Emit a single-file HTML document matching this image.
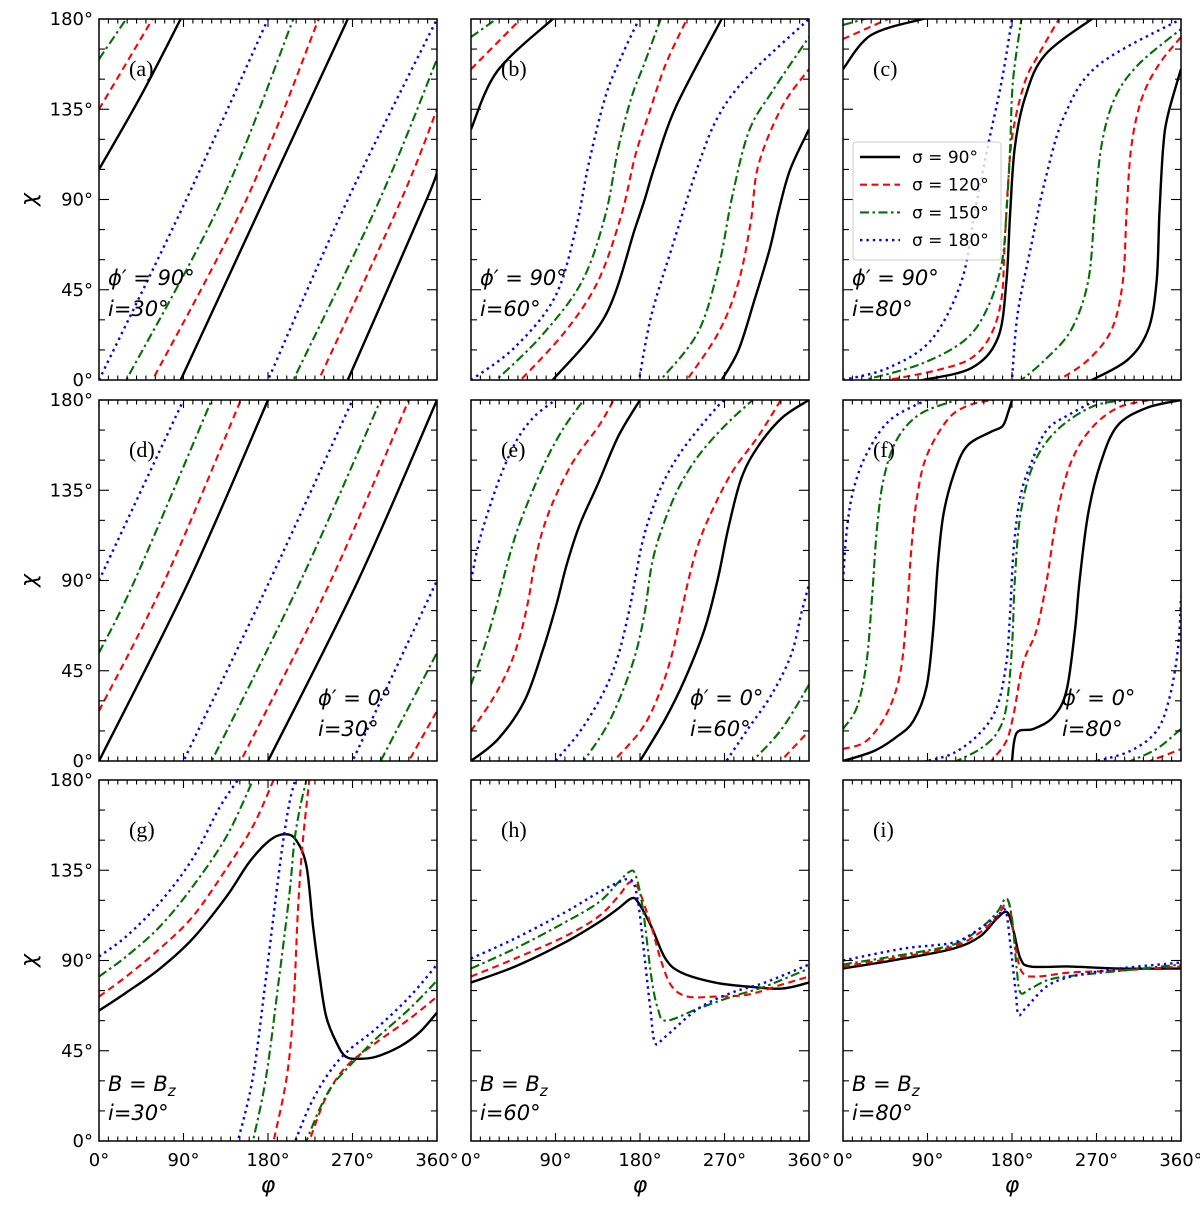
<!DOCTYPE html>
<html><head><meta charset="utf-8"><style>
html,body{margin:0;padding:0;background:#fff;width:1200px;height:1206px;overflow:hidden;}
svg{display:block;}
</style></head><body>
<svg id="fig" width="1200" height="1206" viewBox="0 0 1200 1206" xmlns="http://www.w3.org/2000/svg"></svg>
<script>
// ---- data: [phi, chi] pairs, chi unwrapped (wrapped mod 180 when drawn) ----
const a_s90=[[0,105],[45,142],[87,180],[176,270],[265,360],[349,450],[360,465]];
const a_s120=[[0,135],[57,180],[157,270],[234,360],[322,450],[360,495]];
const a_s150=[[0,160],[29,180],[131,270],[207,360],[299,450],[360,520]];
const a_s180=[[0,0],[93,90],[180,180],[265,270],[360,360]];

const b_s90=[[0,125],[28,154],[87,180],[143,212],[175,256],[185,270],[196,287],[218,316],[267,360],[285,375],[302,400],[318,425],[328,445],[340,465],[360,485]];
const b_s120=[[0,155],[53,180],[100,204],[135,229],[160,262],[175,292],[189,312],[207,337],[230,360],[264,384],[285,409],[298,439],[306,467],[331,496],[360,515]];
const b_s150=[[0,171],[27,180],[75,202],[118,229],[143,262],[157,296],[171,321],[184,337],[202,360],[242,384],[264,417],[278,451],[296,484],[321,504],[360,531]];
const b_s180=[[0,0],[46,16],[89,41],[111,74],[125,107],[143,141],[160,161],[179,180],[192,212],[214,246],[242,287],[264,312],[296,332],[360,360]];

const c_s90=[[0,155],[30,172],[85,180],[137,186],[165,201],[174,229],[178,263],[183,296],[194,321],[215,342],[265,360],[303,370],[325,385],[334,409],[337,443],[341,476],[346,492],[360,515]];
const c_s120=[[0,170],[48,180],[101,185],[137,191],[158,203],[169,221],[172,246],[176,279],[181,304],[194,329],[208,342],[230,360],[261,370],[286,385],[298,409],[302,443],[307,476],[318,500],[336,517],[360,531]];
const c_s150=[[0,177],[23,180],[83,188],[130,200],[154,216],[169,238],[174,263],[178,296],[181,329],[190,360],[215,370],[243,385],[261,409],[268,443],[275,476],[289,500],[314,517],[360,535]];
const c_s180=[[0,0],[48,6],[94,20],[126,49],[140,83],[154,116],[169,149],[180,180],[186,213],[200,246],[215,279],[236,312],[272,337],[360,360]];

const d_s90=[[0,0],[96,90],[180,180],[276,270],[360,360]];
const d_s120=[[0,25],[70,90],[151,180],[247,270],[330,360],[360,385]];
const d_s150=[[0,54],[38,90],[120,180],[215,270],[300,360],[360,414]];
const d_s180=[[0,90],[90,180],[182,270],[270,360],[360,450]];

const e_s90=[[0,0],[29,11],[57,30],[77,56],[91,78],[102,98],[116,118],[136,139],[157,162],[180,180],[207,201],[228,221],[249,246],[263,271],[274,296],[288,321],[306,337],[331,351],[360,360]];
const e_s120=[[0,15],[22,30],[40,46],[52,62],[61,80],[68,99],[77,116],[91,133],[111,151],[136,167],[152,180],[182,196],[200,213],[214,233],[224,254],[232,271],[242,288],[256,304],[278,324],[306,342],[330,360],[360,375]];
const e_s150=[[0,38],[15,58],[28,79],[39,99],[50,116],[65,134],[82,152],[100,167],[120,180],[143,196],[160,213],[175,233],[185,254],[193,279],[205,298],[221,316],[242,332],[270,347],[300,360],[331,376],[360,398]];
const e_s180=[[0,90],[8,108],[18,124],[33,144],[50,161],[68,172],[90,180],[118,196],[143,216],[157,233],[168,254],[175,271],[182,288],[192,304],[207,321],[228,337],[263,357],[272,360],[295,376],[320,393],[341,413],[352,434],[360,448]];

const f_s90=[[0,0],[33,5],[57,12],[75,20],[89,37],[96,65],[101,98],[107,123],[118,143],[132,157],[157,164],[170,167],[176,174],[180,180],[185,194],[203,196],[224,202],[238,215],[247,245],[252,270],[261,303],[274,328],[292,347],[323,356],[360,360]];
const f_s120=[[0,6],[25,10],[47,24],[61,44],[68,74],[73,107],[79,132],[89,152],[111,170],[132,177],[158,180],[174,190],[182,204],[192,229],[206,245],[217,270],[228,303],[242,328],[263,345],[292,356],[327,360],[355,365],[360,366]];
const f_s150=[[0,16],[15,27],[25,49],[31,82],[36,115],[43,140],[57,160],[82,173],[121,180],[146,186],[164,194],[174,207],[180,237],[183,270],[189,303],[203,328],[228,345],[267,357],[306,360],[334,366],[360,376]];
const f_s180=[[0,90],[4,115],[11,135],[25,153],[50,170],[89,180],[118,184],[146,194],[164,207],[174,229],[178,254],[182,287],[189,312],[200,328],[217,345],[242,353],[270,360],[306,365],[334,375],[348,392],[357,417],[360,442]];

const g_s90=[[0,65],[29,74],[65,86],[100,101],[136,122],[160,139],[182,150],[198,153],[210,150],[221,137],[228,107],[235,82],[242,62],[253,49],[263,42],[278,41],[295,42],[320,47],[341,54],[360,64]];
const g_s120=[[0,72],[29,82],[65,96],[100,112],[136,136],[164,157],[186,180],[200,212],[207,246],[212,296],[217,329],[224,360],[242,382],[263,397],[295,409],[331,421],[360,432]];
const g_s150=[[0,82],[29,92],[65,107],[100,127],[136,152],[164,180],[178,212],[192,262],[203,304],[208,329],[214,346],[221,360],[235,376],[249,388],[270,399],[295,411],[331,426],[360,440]];
const g_s180=[[0,92],[29,102],[65,119],[100,141],[128,166],[148,180],[164,212],[178,262],[189,304],[196,329],[203,349],[209,360],[224,377],[242,392],[263,404],[295,416],[331,432],[360,448]];

const h_s90=[[0,79],[47,87],[100,99],[136,109],[157,116],[171,121],[178,119],[192,107],[207,91],[224,84],[260,79],[295,77],[331,76],[360,79]];
const h_s120=[[0,82],[47,91],[100,102],[136,112],[157,122],[169,129],[178,126],[192,107],[203,89],[214,77],[231,72],[260,72],[295,73],[331,78],[360,82]];
const h_s150=[[0,86],[47,96],[100,109],[136,119],[157,129],[168,134],[175,133],[183,116],[192,82],[199,66],[208,60],[242,66],[278,72],[313,77],[360,86]];
const h_s180=[[0,91],[47,101],[100,114],[136,124],[157,129],[171,130],[178,119],[185,91],[191,66],[196,49],[207,52],[242,66],[278,74],[313,79],[360,88]];

const i_s90=[[0,86],[65,91],[118,96],[146,102],[164,111],[175,114],[182,104],[189,91],[200,87],[242,87],[295,86],[360,86]];
const i_s120=[[0,87],[65,92],[118,97],[146,104],[164,112],[174,119],[178,116],[184,96],[191,84],[207,82],[242,84],[295,85],[360,87]];
const i_s150=[[0,88],[65,93],[118,98],[146,106],[164,114],[174,121],[180,111],[185,86],[189,74],[200,76],[224,81],[278,84],[360,88]];
const i_s180=[[0,90],[65,96],[118,99],[146,106],[164,112],[173,115],[178,99],[184,74],[187,63],[196,67],[224,79],[278,85],[360,89]];

const sigmaLabels=["σ = 90°","σ = 120°","σ = 150°","σ = 180°"];
const xTickLabels=["0°","90°","180°","270°","360°"];
const yTickLabels=["0°","45°","90°","135°","180°"];

// ---- layout ----
const NS="http://www.w3.org/2000/svg";
const SANS='"DejaVu Sans","Liberation Sans",sans-serif';
const svg=document.getElementById('fig');
const colX=[99,471,843], rowY=[19,400,780], PW=338, PH=361;
const styles=[
 {c:"#000",w:2.4,d:null},
 {c:"#ff0000",w:2.1,d:"7,4.5"},
 {c:"#007000",w:2.1,d:"9,3.5,2.5,3.5"},
 {c:"#0000ff",w:2.4,d:"2.4,4"}];
const panels=[
 {id:'a',curves:[a_s90,a_s120,a_s150,a_s180],ann:["ϕ′ = 90°","i=30°"],ax:108,ay:[285,316]},
 {id:'b',curves:[b_s90,b_s120,b_s150,b_s180],ann:["ϕ′ = 90°","i=60°"],ax:480,ay:[285,316]},
 {id:'c',curves:[c_s90,c_s120,c_s150,c_s180],ann:["ϕ′ = 90°","i=80°"],ax:852,ay:[285,316]},
 {id:'d',curves:[d_s90,d_s120,d_s150,d_s180],ann:["ϕ′ = 0°","i=30°"],ax:318,ay:[705,736]},
 {id:'e',curves:[e_s90,e_s120,e_s150,e_s180],ann:["ϕ′ = 0°","i=60°"],ax:690,ay:[705,736]},
 {id:'f',curves:[f_s90,f_s120,f_s150,f_s180],ann:["ϕ′ = 0°","i=80°"],ax:1062,ay:[705,736]},
 {id:'g',curves:[g_s90,g_s120,g_s150,g_s180],ann:["B = B","i=30°"],ax:108,ay:[1091,1120],bz:true},
 {id:'h',curves:[h_s90,h_s120,h_s150,h_s180],ann:["B = B","i=60°"],ax:480,ay:[1091,1120],bz:true},
 {id:'i',curves:[i_s90,i_s120,i_s150,i_s180],ann:["B = B","i=80°"],ax:852,ay:[1091,1120],bz:true}];

function mk(tag,attrs,parent){const e=document.createElementNS(NS,tag);for(const k in attrs)e.setAttribute(k,attrs[k]);(parent||svg).appendChild(e);return e;}
function pathD(pts){
  if(pts.length<2)return "";
  let d="M"+pts[0][0].toFixed(2)+","+pts[0][1].toFixed(2);
  for(let k=0;k<pts.length-1;k++){
    const p0=pts[k-1]||pts[k],p1=pts[k],p2=pts[k+1],p3=pts[k+2]||p2;
    const t=1/6;
    const c1=[p1[0]+(p2[0]-p0[0])*t,p1[1]+(p2[1]-p0[1])*t];
    const c2=[p2[0]-(p3[0]-p1[0])*t,p2[1]-(p3[1]-p1[1])*t];
    d+="C"+c1[0].toFixed(2)+","+c1[1].toFixed(2)+" "+c2[0].toFixed(2)+","+c2[1].toFixed(2)+" "+p2[0].toFixed(2)+","+p2[1].toFixed(2);
  }
  return d;
}
// take the part of a shifted curve lying in [0,180], trimming ends by interpolation
function inRange(s){
  const n=s.length;
  let i0=-1,i1=-1;
  for(let i=0;i<n;i++){
    const ok=(s[i][1]>=0&&s[i][1]<=180)||(i<n-1&&((s[i][1]<0)!==(s[i+1][1]<0)||(s[i][1]>180)!==(s[i+1][1]>180)));
    if(ok){if(i0<0)i0=i;i1=i;}
  }
  if(i0<0)return [];
  let pts=s.slice(i0,i1+2>n?n:i1+2).map(p=>p.slice());
  function clampPair(a,b){
    const lim=a[1]<0?0:(a[1]>180?180:null);
    if(lim===null)return a;
    const t=(lim-a[1])/(b[1]-a[1]);
    return [a[0]+(b[0]-a[0])*t,lim];
  }
  if(pts.length>1){
    pts[0]=clampPair(pts[0],pts[1]);
    const L=pts.length-1;
    pts[L]=clampPair(pts[L],pts[L-1]);
  }
  return pts.filter(p=>p[1]>=-0.01&&p[1]<=180.01);
}
const defs=mk('defs',{});
panels.forEach((p,idx)=>{
  const col=idx%3,row=Math.floor(idx/3);
  const X0=colX[col],Y0=rowY[row];
  const sx=phi=>X0+phi/360*PW;
  const sy=chi=>Y0+PH-chi/180*PH;
  const g=mk('g',{});
  
  
  const cp=mk('clipPath',{id:'clip'+p.id},defs);
  mk('rect',{x:X0,y:Y0,width:PW,height:PH},cp);
  const cg=mk('g',{'clip-path':'url(#clip'+p.id+')'},g);
  p.curves.forEach((cv,si)=>{
    const st=styles[si];
    for(let k=0;k<4;k++){
      const seg=inRange(cv.map(q=>[q[0],q[1]-180*k]));
      if(seg.length<2)continue;
      const pts=seg.map(q=>[sx(q[0]),sy(q[1])]);
      const path=mk('path',{d:pathD(pts),fill:'none',stroke:st.c,'stroke-width':st.w},cg);
      if(st.d)path.setAttribute('stroke-dasharray',st.d);
      
      
    }
  });
  const tk=mk('g',{stroke:'#000','stroke-width':1.1},g);
  for(let v=0;v<=360;v+=10){
    const x=sx(v),L=(v%90===0)?8:4.5;
    mk('line',{x1:x,y1:Y0+PH,x2:x,y2:Y0+PH-L},tk);
    mk('line',{x1:x,y1:Y0,x2:x,y2:Y0+L},tk);
  }
  for(let v=0;v<=180;v+=15){
    const y=sy(v),L=(v%45===0)?10:6;
    mk('line',{x1:X0,y1:y,x2:X0+L,y2:y},tk);
    mk('line',{x1:X0+PW,y1:y,x2:X0+PW-L,y2:y},tk);
  }
  const fr=mk('rect',{x:X0,y:Y0,width:PW,height:PH,fill:'none',stroke:'#000','stroke-width':1.5},g);
  
  
  const lt=mk('text',{x:X0+30,y:Y0+57,'font-family':'"Liberation Serif","DejaVu Serif",serif','font-size':22,fill:'#000'},g);
  lt.textContent='('+p.id+')';
  
  
  const t1=mk('text',{x:p.ax,y:p.ay[0],'font-family':SANS,'font-size':21,'font-style':'italic',fill:'#000'},g);
  t1.textContent=p.ann[0];
  if(p.bz){const s=mk('tspan',{'font-size':15,dy:5},t1);s.textContent='z';}
  
  
  const t2=mk('text',{x:p.ax,y:p.ay[1],'font-family':SANS,'font-size':21,'font-style':'italic',fill:'#000'},g);
  t2.textContent=p.ann[1];
  
  
  if(col===0){
    yTickLabels.forEach((lab,j)=>{
      const t=mk('text',{x:X0-6,y:sy(j*45)+6,'font-family':SANS,'font-size':18,'text-anchor':'end',fill:'#000'},g);
      t.textContent=lab;
      
      
    });
    const yl=mk('text',{x:0,y:0,'font-family':SANS,'font-size':22,'font-style':'italic','text-anchor':'middle',fill:'#000',transform:'translate(36,'+(Y0+PH/2)+') rotate(-90)'},g);
    yl.textContent='χ';
    
    
  }
  if(row===2){
    xTickLabels.forEach((lab,j)=>{
      const t=mk('text',{x:sx(j*90),y:Y0+PH+25,'font-family':SANS,'font-size':18,'text-anchor':'middle',fill:'#000'},g);
      t.textContent=lab;
      
      
    });
    const xl=mk('text',{x:X0+PW/2,y:1192,'font-family':SANS,'font-size':22,'font-style':'italic','text-anchor':'middle',fill:'#000'},g);
    xl.textContent='φ';
    
    
  }
});
const lg=mk('g',{});


mk('rect',{x:853,y:142,width:148,height:118,rx:3,fill:'#fff','fill-opacity':0.8,stroke:'#ccc','stroke-width':1},lg);
sigmaLabels.forEach((lab,j)=>{
  const y=157+j*27.7, st=styles[j];
  const ln=mk('line',{x1:860,y1:y,x2:900,y2:y,stroke:st.c,'stroke-width':st.w},lg);
  if(st.d)ln.setAttribute('stroke-dasharray',st.d);
  const t=mk('text',{x:912,y:y+6,'font-family':SANS,'font-size':17,fill:'#000'},lg);
  t.textContent=lab;
  
  
});
</script>
</body></html>
